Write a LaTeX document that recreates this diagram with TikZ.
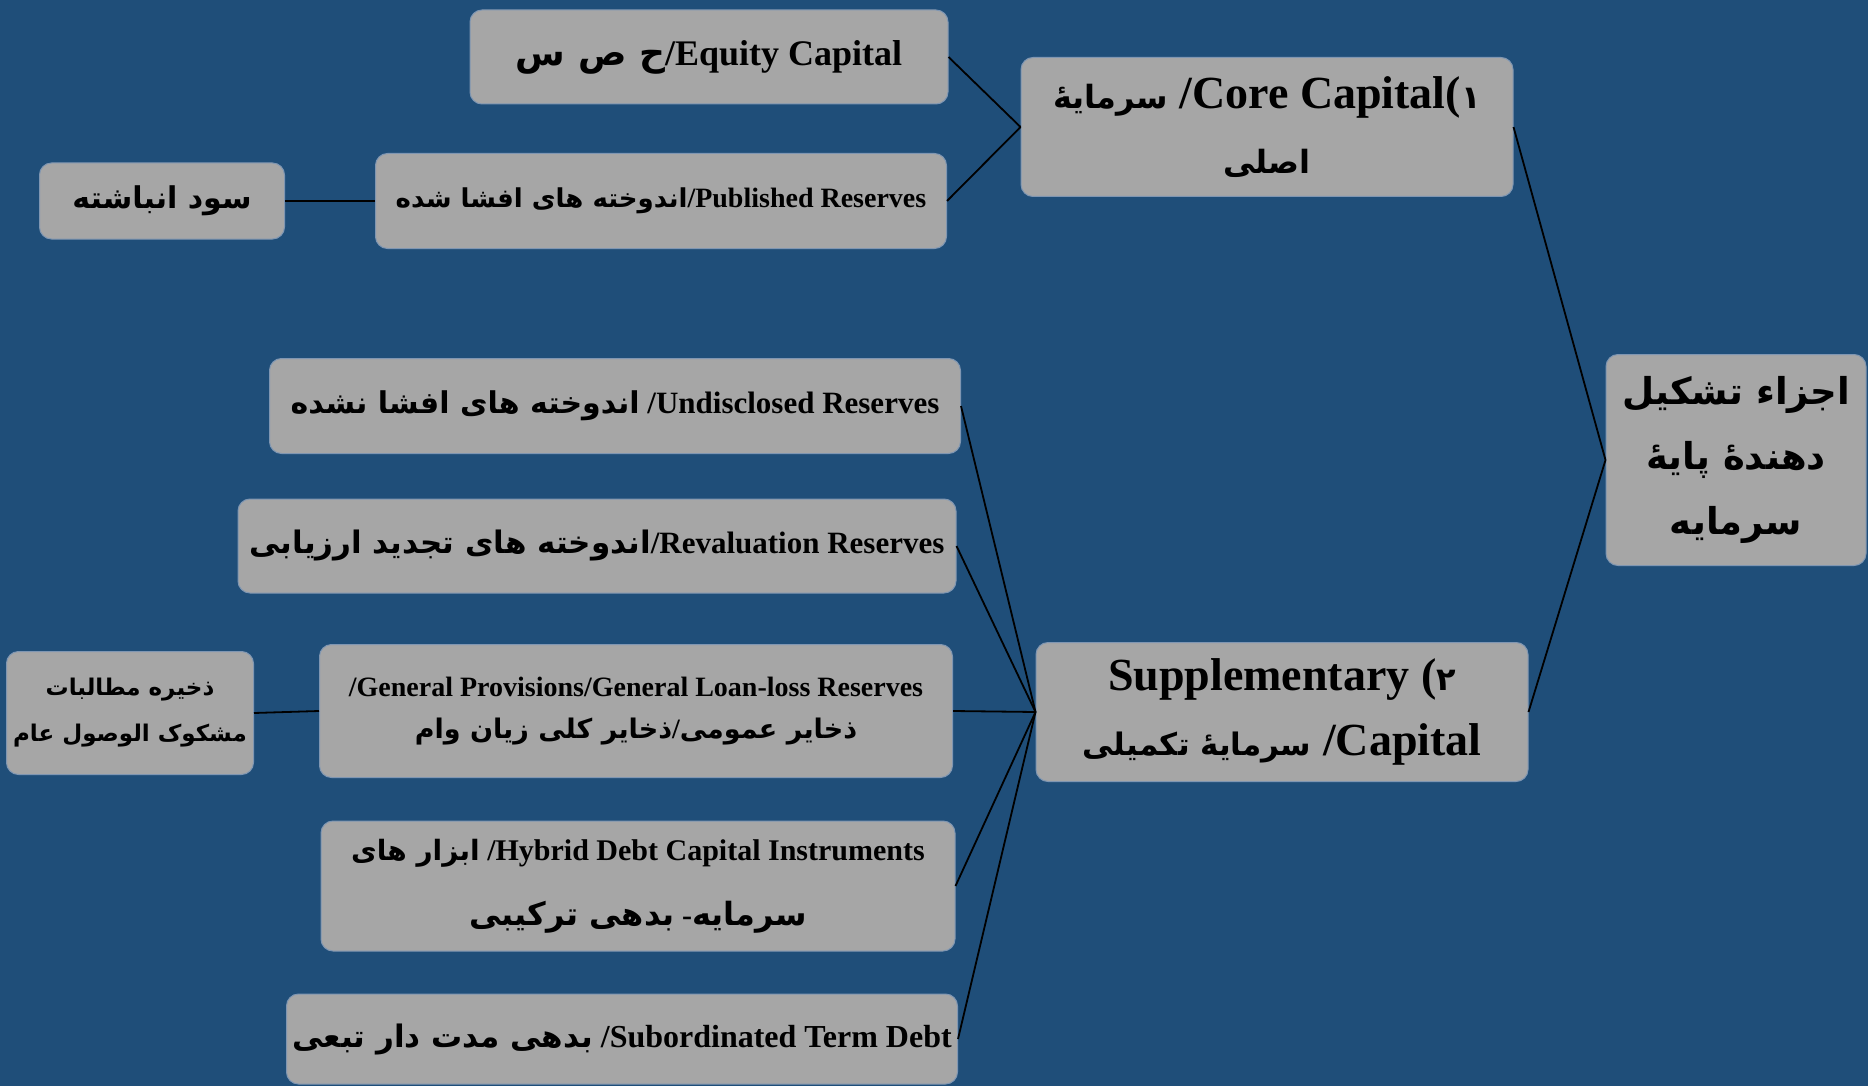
\documentclass[tikz,border=0pt]{standalone}
\usepackage{fontspec}
\setmainfont{Liberation Serif}
\newfontfamily\fa[Script=Arabic]{DejaVu Sans}
\TeXXeTstate=1
\usetikzlibrary{positioning}
\definecolor{bgblue}{HTML}{1F4E79}
\definecolor{boxgray}{HTML}{A6A6A6}
\definecolor{boxline}{HTML}{7F96B2}
\newcommand{\pe}[2]{{\fontsize{#1}{#1}\selectfont\fa\bfseries #2}}

\tikzset{
  capbox/.style={draw=boxline, line width=1pt, fill=boxgray, rounded corners=12pt,
    align=center, inner sep=0pt, text=black},
  txt/.style 2 args={font=\bfseries\fontsize{#1}{#2}\selectfont},
  link/.style={draw=black, line width=1.8pt},
}

\begin{document}
\begin{tikzpicture}[x=1pt,y=-1pt]
  \fill[bgblue] (0,0) rectangle (1868,1086);
  \useasboundingbox (0,0) rectangle (1868,1086);

  % root and the two main parts
  \node[capbox, txt={37}{65}, minimum width=260, minimum height=211]
    (root) at (1736,460) {\beginR\pe{37}{اجزاء تشکیل}\endR\\ \beginR\pe{37}{دهندهٔ پایهٔ}\endR\\ \beginR\pe{37}{سرمایه}\endR};
  \node[capbox, txt={46}{65}, minimum width=492, minimum height=139]
    (core) at (1267,127) {\beginR\pe{32}{۱}(\beginL Core Capital\endL/ \pe{32}{سرمایهٔ}\endR\\ \beginR\pe{32}{اصلی}\endR};
  \node[capbox, txt={46}{65}, minimum width=492, minimum height=139]
    (supp) at (1282,712) {\beginR\pe{32}{۲}( \beginL Supplementary\endL\endR\\ \beginR\beginL Capital\endL/ \pe{31}{سرمایهٔ تکمیلی}\endR};

  % core capital items
  \node[capbox, txt={36}{44}, minimum width=478, minimum height=94]
    (equity) at (709,57) {\beginR\beginL Equity Capital\endL/\pe{36}{ح ص س}\endR};
  \node[capbox, txt={28}{36}, minimum width=571, minimum height=95]
    (pub) at (661,201) {\beginR\beginL Published Reserves\endL/\pe{26}{اندوخته های افشا شده}\endR};
  \node[capbox, txt={30}{40}, minimum width=245, minimum height=76]
    (sood) at (162,201) {\beginR\pe{30}{سود انباشته}\endR};

  % supplementary capital items
  \node[capbox, txt={31}{40}, minimum width=691, minimum height=95]
    (undis) at (615,406) {\beginR\beginL Undisclosed Reserves\endL/ \pe{30}{اندوخته های افشا نشده}\endR};
  \node[capbox, txt={31}{40}, minimum width=718, minimum height=94]
    (reval) at (597,546) {\beginR\beginL Revaluation Reserves\endL/\pe{31}{اندوخته های تجدید ارزیابی}\endR};
  \node[capbox, txt={28}{42}, minimum width=633, minimum height=133]
    (gen) at (636,711) {\beginR\beginL General Provisions/General Loan-loss Reserves\endL/\endR\\
      \beginR\pe{27}{ذخایر عمومی}/\pe{27}{ذخایر کلی زیان وام}\endR};
  \node[capbox, txt={23}{46}, minimum width=247, minimum height=123]
    (zakh) at (130,713) {\beginR\pe{23}{ذخیره مطالبات}\endR\\ \beginR\pe{23}{مشکوک الوصول عام}\endR};
  \node[capbox, txt={30}{65}, minimum width=634, minimum height=130]
    (hyb) at (638,886) {\beginR\beginL Hybrid Debt Capital Instruments\endL/ \pe{28}{ابزار های}\endR\\
      \beginR\pe{32}{سرمایه}- \pe{32}{بدهی ترکیبی}\endR};
  \node[capbox, txt={32}{40}, minimum width=671, minimum height=90]
    (subo) at (622,1039) {\beginR\beginL Subordinated Term Debt\endL/ \pe{31}{بدهی مدت دار تبعی}\endR};

  % connectors
  \draw[link] (root.west) -- (core.east);
  \draw[link] (root.west) -- (supp.east);
  \draw[link] (core.west) -- (equity.east);
  \draw[link] (core.west) -- (pub.east);
  \draw[link] (pub.west) -- (sood.east);
  \foreach \n in {undis,reval,gen,hyb,subo}
    \draw[link] (supp.west) -- (\n.east);
  \draw[link] (gen.west) -- (zakh.east);
\end{tikzpicture}
\end{document}
